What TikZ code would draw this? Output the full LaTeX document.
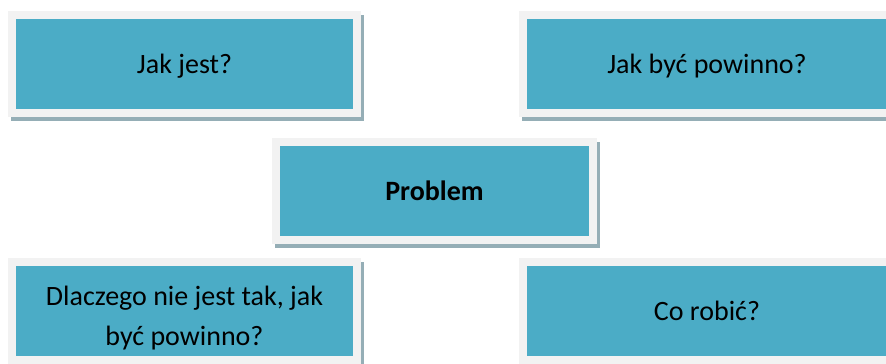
\documentclass[tikz,border=0pt]{standalone}
\usepackage{fontspec}
\setmainfont{Carlito}
\usepackage{xcolor}
\usetikzlibrary{shadows}
\definecolor{boxblue}{HTML}{4BACC6}
\definecolor{framegray}{HTML}{F2F2F2}
\definecolor{shadowgray}{RGB}{149,174,182}

\begin{document}
\begin{tikzpicture}[
                        x=0.5pt, y=-0.5pt,
                        every node/.style={rectangle, fill=boxblue, draw=framegray, line width=4pt,
                                           align=center, inner sep=0pt, text height=10pt, text depth=0.5pt,
                                           font=\fontsize{14pt}{20pt}\selectfont,
                                           drop shadow={shadow xshift=1.5pt, shadow yshift=-2pt,
                                                        fill=shadowgray, draw=shadowgray, line width=4pt, opacity=1}},
                        narrow/.style={minimum width=172.5pt, minimum height=49pt},
                        wide/.style={minimum width=184pt, minimum height=49pt},
                        middle/.style={minimum width=158.5pt, minimum height=49pt}
                        ]
                      
                        \useasboundingbox (0,0) rectangle (886,363);
                        \clip (0,0) rectangle (886,363);
                        \node [narrow] (jest) at (184.5,64.5) {Jak jest?};
                        \node [wide] (powinno) at (707,64.5) {Jak być powinno?};
                        \node [middle] (problem) at (434.5,191) {\textbf{Problem}};
                        \node [narrow, text height=34pt, text depth=0pt] (dlaczego) at (184.5,311)
                          {Dlaczego nie jest tak, jak\\być powinno?};
                        \node [wide] (robic) at (707,311) {Co robić?};
                      \end{tikzpicture}
\end{document}
